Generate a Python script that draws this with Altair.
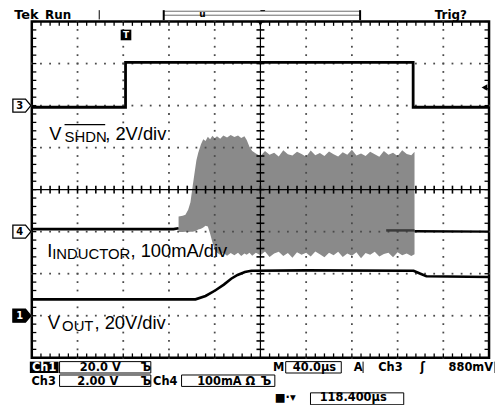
import altair as alt
import pandas as pd

# ---------------- traces, in screen divisions (x 0..10, y -4..4) ----------------
ch3_x = [0.0, 2.05, 2.05, 8.34, 8.34, 10.0]
ch3_y = [1.96, 1.96, 3.03, 3.03, 1.96, 1.96]

ch1_x = [0.0, 3.58, 3.80, 4.01, 4.20, 4.36, 4.50, 4.66, 4.80, 6.00, 8.35, 8.50, 8.63, 10.0]
ch1_y = [-2.61, -2.61, -2.53, -2.40, -2.26, -2.12, -2.03, -1.96, -1.93, -1.92, -1.93, -2.00, -2.06, -2.08]

ind_x = [3.21, 3.30, 3.36, 3.42, 3.47, 3.52, 3.56, 3.60, 3.64, 3.70, 3.75, 3.80, 3.85, 3.90,
         3.95, 4.00, 4.05, 4.12, 4.19, 4.27, 4.35, 4.43, 4.51, 4.58, 4.65, 4.70, 4.76, 4.82,
         4.90, 5.00, 5.10, 5.20, 5.30, 5.40, 5.50, 5.60, 5.70, 5.80, 5.90, 6.00, 6.10, 6.20,
         6.30, 6.40, 6.50, 6.60, 6.70, 6.80, 6.90, 7.00, 7.10, 7.20, 7.30, 7.40, 7.50, 7.60,
         7.70, 7.80, 7.90, 8.00, 8.10, 8.20, 8.30, 8.37]
ind_hi = [-0.64, -0.62, -0.60, -0.48, -0.30, 0.10, 0.40, 0.70, 0.88, 1.08, 1.20, 1.16, 1.26, 1.20,
          1.28, 1.22, 1.27, 1.21, 1.29, 1.24, 1.30, 1.25, 1.29, 1.23, 1.27, 1.18, 1.02, 0.92,
          0.86, 0.80, 0.92, 0.83, 0.88, 0.79, 0.94, 0.84, 0.81, 0.90, 0.85, 0.78, 0.93, 0.82,
          0.87, 0.80, 0.91, 0.84, 0.79, 0.89, 0.83, 0.95, 0.81, 0.86, 0.80, 0.90, 0.84, 0.78,
          0.92, 0.83, 0.88, 0.80, 0.94, 0.85, 0.82, 0.90]
ind_lo = [-1.01, -1.01, -1.00, -1.01, -1.00, -1.00, -0.99, -0.97, -0.95, -0.93, -0.90, -0.86, -0.88, -1.05,
          -1.25, -1.42, -1.50, -1.55, -1.50, -1.57, -1.51, -1.56, -1.50, -1.58, -1.52, -1.55, -1.50, -1.57,
          -1.50, -1.56, -1.47, -1.60, -1.52, -1.48, -1.58, -1.51, -1.62, -1.49, -1.55, -1.50, -1.59, -1.47,
          -1.54, -1.61, -1.50, -1.56, -1.48, -1.60, -1.52, -1.57, -1.49, -1.63, -1.51, -1.55, -1.48, -1.59,
          -1.53, -1.50, -1.61, -1.49, -1.56, -1.52, -1.58, -1.54]

ind_base_x = [0.0, 3.10, 3.21]
ind_base_y = [-0.94, -0.94, -0.92]
ind_tail_x = [8.37, 10.0]
ind_tail_y = [-0.99, -1.00]
ind_dark_x = [7.75, 8.37]
ind_dark_y = [-0.97, -0.97]

# ---------------- graticule ----------------
tick_x = [round(0.2 * i, 1) for i in range(51)]
tick_y = [round(-4 + 0.2 * i, 1) for i in range(41)]
grid_cols = [1.0, 2.0, 3.0, 4.0, 6.0, 7.0, 8.0, 9.0]
grid_rows = [-3.0, -2.0, -1.0, 1.0, 2.0, 3.0]
edge_in_x = [0.05, 9.95]
edge_in_y = [3.95, -3.95]

# ---------------- annotation texts ----------------
lab_main_x = [0.38, 1.605, 0.336, 2.158, 0.347, 1.37]
lab_main_y = [1.18, 1.18, -1.604, -1.604, -3.325, -3.325]
lab_main_t = ["V", ", 2V/div", "I", ", 100mA/div", "V", ", 20V/div"]
lab_sub_x = [0.716, 0.445, 0.662]
lab_sub_y = [1.144, -1.651, -3.373]
lab_sub_t = ["SHDN", "INDUCTOR", "OUT"]
overline_x = [0.716]
overline_x2 = [1.605]
overline_y = [1.545]

chan_x = [-0.217, -0.217, -0.217]
chan_y = [2.0, -1.0, -3.0]
chan_t = ["3", "4", "1"]
chan_fill = ["white", "white", "black"]
chan_txt = ["black", "black", "white"]

top_x = [-0.119, 0.575, 9.165]
top_y = [4.057, 4.057, 4.057]
top_t = ["Tek", "Run", "Trig?"]
top_s = [13, 12, 12]

bot_x = [0.271, 1.497, 2.495, 5.401, 6.182, 7.137, 7.842, 8.547, 9.600,
         0.260, 1.443, 2.495, 2.918, 4.252, 5.119, 5.542, 7.028]
bot_y = [-4.316] * 9 + [-4.658] * 6 + [-5.035] * 2
bot_t = ["Ch1", "20.0 V", "Ъ", "M", "40.0µs", "A", "Ch3", "ʃ", "880mV",
         "Ch3", "2.00 V", "Ъ", "Ch4", "100mA Ω", "Ъ", "■·▾", "118.400µs"]
bot_c = ["white"] + ["black"] * 16

box_x = [0.607, 5.553, 0.607, 3.275, 6.095]
box_x2 = [2.603, 6.768, 2.603, 5.315, 8.134]
box_y = [-4.092, -4.092, -4.410, -4.410, -4.835]
box_y2 = [-4.363, -4.363, -4.682, -4.682, -5.118]

inv_x, inv_x2, inv_y, inv_y2 = [-0.043], [0.586], [-4.092], [-4.363]

bar_x = [7.245, 10.13, 1.475, 2.885, 7.18]
bar_y = [-4.092, -4.092, 4.27, 4.27, 4.27]
bar_y2 = [-4.363, -4.363, 4.05, 4.033, 4.033]
bar_w = [1, 1, 1, 2, 2]

ruler_x, ruler_x2, ruler_y, ruler_y2 = [2.885], [7.18], [4.245], [4.15]

# ---------------- encodings ----------------
X = alt.X("x:Q", scale=alt.Scale(domain=[0, 10], nice=False, zero=False), axis=None)
Y = alt.Y("y:Q", scale=alt.Scale(domain=[-4, 4], nice=False, zero=False), axis=None)


def df(**cols):
    return pd.DataFrame(cols)


layers = []

# inductor current envelope
layers.append(alt.Chart(df(x=ind_x, y=ind_hi, y2=ind_lo)).mark_area(
    color="#8a8a8a", opacity=1, interpolate="linear").encode(x=X, y=Y, y2="y2:Q"))

# dotted graticule: one small-tick layer per graticule line
for col in grid_cols:
    layers.append(alt.Chart(df(x=[col] * len(tick_y), y=tick_y)).mark_tick(
        orient="vertical", size=1.8, thickness=1.8, color="#4a4a4a", opacity=1).encode(x=X, y=Y))
for row in grid_rows:
    layers.append(alt.Chart(df(x=tick_x, y=[row] * len(tick_x))).mark_tick(
        orient="vertical", size=1.8, thickness=1.8, color="#4a4a4a", opacity=1).encode(x=X, y=Y))

# inward edge ticks
for ey in edge_in_y:
    layers.append(alt.Chart(df(x=tick_x, y=[ey] * len(tick_x))).mark_tick(
        orient="vertical", size=4.5, thickness=1.3, color="black", opacity=1).encode(x=X, y=Y))
for ex in edge_in_x:
    layers.append(alt.Chart(df(x=[ex] * len(tick_y), y=tick_y)).mark_tick(
        orient="horizontal", size=4.5, thickness=1.3, color="black", opacity=1).encode(x=X, y=Y))


def trace(xs, ys, width, color="black"):
    d = df(x=xs, y=ys, i=list(range(len(xs))))
    return alt.Chart(d).mark_line(color=color, strokeWidth=width, strokeJoin="miter").encode(
        x=X, y=Y, order="i:Q")


layers.append(trace(ind_base_x, ind_base_y, 2.6))
layers.append(trace(ind_tail_x, ind_tail_y, 2.4))
layers.append(trace(ind_dark_x, ind_dark_y, 2.5, "#3a3a3a"))
layers.append(trace(ch3_x, ch3_y, 2.8))
layers.append(trace(ch1_x, ch1_y, 2.6))

# center cross
layers.append(alt.Chart(df(x=[5.0, 0.0], y=[-4.0, 0.0], x2=[5.0, 10.0], y2=[4.0, 0.0])).mark_rule(
    color="black", strokeWidth=1.2).encode(x=X, y=Y, x2="x2:Q", y2="y2:Q"))
layers.append(alt.Chart(df(x=tick_x, y=[0.0] * len(tick_x))).mark_tick(
    orient="vertical", size=8, thickness=1.6, color="black", opacity=1).encode(x=X, y=Y))
layers.append(alt.Chart(df(x=[5.0] * len(tick_y), y=tick_y)).mark_tick(
    orient="horizontal", size=8, thickness=1.6, color="black", opacity=1).encode(x=X, y=Y))

# trace labels
layers.append(alt.Chart(df(x=lab_main_x, y=lab_main_y, t=lab_main_t)).mark_text(
    align="left", baseline="alphabetic", font="Liberation Sans", fontSize=18.5, color="black").encode(
    x=X, y=Y, text="t:N"))
layers.append(alt.Chart(df(x=lab_sub_x, y=lab_sub_y, t=lab_sub_t)).mark_text(
    align="left", baseline="alphabetic", font="Liberation Sans", fontSize=15, color="black").encode(
    x=X, y=Y, text="t:N"))
layers.append(alt.Chart(df(x=overline_x, x2=overline_x2, y=overline_y)).mark_rule(
    color="black", strokeWidth=1.3).encode(x=X, x2="x2:Q", y=Y))

# channel ground markers
arrow_shape = "M-1,-0.72 L0.4,-0.72 L1,0 L0.4,0.72 L-1,0.72 Z"
layers.append(alt.Chart(df(x=chan_x, y=chan_y, f=chan_fill)).mark_point(
    shape=arrow_shape, size=330, filled=True, stroke="black", strokeWidth=1.3, opacity=1).encode(
    x=X, y=Y, fill=alt.Fill("f:N", scale=None)))
layers.append(alt.Chart(df(x=[v - 0.05 for v in chan_x], y=chan_y, t=chan_t, c=chan_txt)).mark_text(
    align="center", baseline="middle", font="DejaVu Sans", fontWeight="bold", fontSize=10).encode(
    x=X, y=Y, text="t:N", color=alt.Color("c:N", scale=None)))

# trigger markers
layers.append(alt.Chart(df(x=[2.06], y=[3.68])).mark_point(
    shape="square", size=115, filled=True, color="black", opacity=1).encode(x=X, y=Y))
layers.append(alt.Chart(df(x=[2.06], y=[3.68], t=["T"])).mark_text(
    align="center", baseline="middle", font="DejaVu Sans", fontWeight="bold", fontSize=9,
    color="white").encode(x=X, y=Y, text="t:N"))
layers.append(alt.Chart(df(x=[9.90], y=[2.43])).mark_point(
    shape="triangle-left", size=45, filled=True, color="black", opacity=1).encode(x=X, y=Y))
layers.append(alt.Chart(df(x=[5.0, 5.05], y=[3.95, 4.22])).mark_point(
    shape="triangle-down", size=28, filled=True, color="black", opacity=1).encode(x=X, y=Y))

# top status bar
layers.append(alt.Chart(df(x=ruler_x, x2=ruler_x2, y=ruler_y, y2=ruler_y2)).mark_rect(
    fill="white", stroke="#6a6a6a", strokeWidth=1).encode(x=X, x2="x2:Q", y=Y, y2="y2:Q"))
layers.append(alt.Chart(df(x=bar_x, y=bar_y, y2=bar_y2, w=bar_w)).mark_rule(color="black").encode(
    x=X, y=Y, y2="y2:Q", strokeWidth=alt.StrokeWidth("w:Q", scale=None)))
layers.append(alt.Chart(df(x=top_x, y=top_y, t=top_t, s=top_s)).mark_text(
    align="center", baseline="alphabetic", font="DejaVu Sans", fontWeight="bold", color="black").encode(
    x=X, y=Y, text="t:N", size=alt.Size("s:Q", scale=None)))
layers.append(alt.Chart(df(x=[3.731], y=[4.10], t=["u"])).mark_text(
    align="center", baseline="alphabetic", font="DejaVu Sans", fontWeight="bold", fontSize=9,
    color="black").encode(x=X, y=Y, text="t:N"))

# bottom readouts
layers.append(alt.Chart(df(x=inv_x, x2=inv_x2, y=inv_y, y2=inv_y2)).mark_rect(
    color="black").encode(x=X, x2="x2:Q", y=Y, y2="y2:Q"))
layers.append(alt.Chart(df(x=box_x, x2=box_x2, y=box_y, y2=box_y2)).mark_rect(
    fill="white", fillOpacity=0, stroke="black", strokeWidth=1).encode(x=X, x2="x2:Q", y=Y, y2="y2:Q"))
layers.append(alt.Chart(df(x=bot_x, y=bot_y, t=bot_t, c=bot_c)).mark_text(
    align="center", baseline="alphabetic", font="DejaVu Sans", fontWeight="bold", fontSize=11.5).encode(
    x=X, y=Y, text="t:N", color=alt.Color("c:N", scale=None)))

chart = alt.layer(*layers).properties(
    width=461, height=339,
    padding={"left": 24, "top": 12, "right": 6, "bottom": 46},
    autosize=alt.AutoSizeParams(type="none"),
    background="white",
).configure_view(stroke="black", strokeWidth=2.5)

chart.save("out.html", embed_options={"renderer": "svg", "actions": False})
